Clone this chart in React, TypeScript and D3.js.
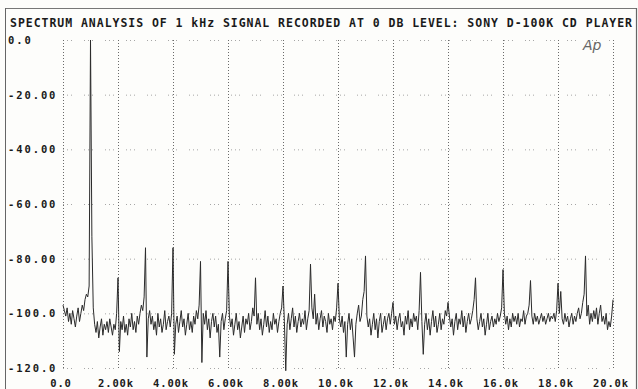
import React from "react";
import * as d3 from "d3";

const titleText =
  "SPECTRUM ANALYSIS OF 1 kHz SIGNAL RECORDED AT 0 DB LEVEL: SONY D-100K CD PLAYER";

const yTicks = [0, -20, -40, -60, -80, -100, -120];
const yTickLabels = ["0.0", "-20.00", "-40.00", "-60.00", "-80.00", "-100.0", "-120.0"];
const xTicks = [0, 2, 4, 6, 8, 10, 12, 14, 16, 18, 20];
const xTickLabels = ["0.0", "2.00k", "4.00k", "6.00k", "8.00k", "10.0k", "12.0k", "14.0k", "16.0k", "18.0k", "20.0k"];

// Spectrum samples, 0.05 kHz apart, starting at 0 kHz (one row per kHz)
const freqStepKHz = 0.05;
const spectrumDb = [
  -97, -99, -101, -98, -103, -100, -104, -99, -102, -105, -101, -98, -103, -100, -97, -99, -95, -93, -94, -90,
  0, -72, -98, -104, -107, -103, -109, -105, -102, -108, -104, -106, -103, -107, -102, -105, -108, -104, -106, -100,
  -87, -114, -103, -106, -101, -107, -104, -108, -102, -105, -100, -106, -103, -107, -101, -104, -100, -97, -99, -94,
  -76, -116, -102, -99, -104, -101, -106, -103, -108, -100, -105, -102, -107, -104, -99, -106, -103, -101, -105, -100,
  -76, -115, -104, -101, -107, -103, -99, -105, -102, -108, -104, -100, -106, -103, -107, -101, -104, -99, -102, -97,
  -81, -118, -100, -104, -99, -106, -102, -109, -103, -100, -105, -101, -107, -104, -116, -103, -100, -106, -102, -99,
  -81, -101, -105, -102, -108, -104, -100, -106, -103, -109, -105, -101, -107, -102, -104, -100, -106, -103, -98, -101,
  -87, -104, -100, -106, -102, -108, -104, -99, -105, -101, -107, -103, -106, -100, -104, -102, -107, -103, -100, -98,
  -90, -103, -121, -104, -100, -106, -102, -98, -105, -101, -107, -103, -100, -105, -102, -104, -99, -106, -102, -99,
  -82, -98, -102, -93, -104, -100, -106, -102, -99, -105, -101, -103, -107, -100, -104, -102, -106, -101, -103, -98,
  -89, -102, -105, -101, -107, -103, -116, -104, -100, -106, -102, -109, -116, -104, -100, -97, -103, -101, -95, -92,
  -79, -101, -105, -102, -108, -104, -100, -106, -102, -109, -103, -100, -107, -104, -101, -106, -102, -100, -104, -100,
  -96, -104, -101, -106, -102, -100, -105, -103, -108, -101, -104, -99, -106, -102, -105, -100, -103, -101, -106, -99,
  -85, -103, -115, -104, -100, -106, -102, -108, -103, -99, -105, -101, -107, -104, -100, -106, -102, -104, -99, -101,
  -96, -101, -105, -102, -108, -103, -100, -106, -102, -104, -99, -105, -101, -107, -103, -100, -104, -102, -99, -95,
  -87, -102, -106, -103, -100, -105, -102, -108, -104, -100, -106, -103, -101, -105, -102, -104, -100, -103, -101, -98,
  -84, -100, -104, -101, -106, -102, -105, -100, -103, -101, -104, -100, -105, -102, -103, -99, -104, -101, -100, -97,
  -88, -101, -104, -100, -103, -101, -104, -102, -100, -103, -101, -104, -102, -100, -103, -101, -102, -100, -103, -99,
  -89, -100, -92, -102, -104, -100, -103, -101, -105, -102, -100, -104, -101, -103, -100, -98, -102, -100, -96, -93,
  -79, -101, -97, -104, -100, -103, -99, -102, -98, -104, -100, -97, -103, -101, -104, -100, -106, -103, -105, -101,
  -95,
];

const W = 638;
const H = 389;

export default function App() {
  const x = d3.scaleLinear().domain([0, 20]).range([63, 613]);
  const y = d3.scaleLinear().domain([-120, 0]).range([368, 40]);

  const pts: [number, number][] = spectrumDb.map((v, i) => [i * freqStepKHz, v]);
  const line = d3
    .line<[number, number]>()
    .x((d) => x(d[0]))
    .y((d) => y(d[1]));

  const mono = "'DejaVu Sans Mono', 'Liberation Mono', monospace";

  return (
    <svg
      width={W}
      height={H}
      viewBox={`0 0 ${W} ${H}`}
      style={{ position: "absolute", left: 0, top: 0, display: "block", background: "#fdfdfb" }}
    >
      <rect x={0} y={0} width={W} height={H} fill="#fdfdfb" />
      {/* frame */}
      <line x1={5} x2={636} y1={8.5} y2={8.5} stroke="#777" strokeWidth={1} />
      <line x1={5.5} x2={5.5} y1={8} y2={H} stroke="#666" strokeWidth={1} />
      <line x1={636.5} x2={636.5} y1={8} y2={H} stroke="#666" strokeWidth={1.2} />

      {/* title */}
      <text
        x={10}
        y={27}
        fontFamily={mono}
        fontWeight="bold"
        fontSize={11.5}
        fill="#1a1a1a"
        textLength={622}
        lengthAdjust="spacing"
      >
        {titleText}
      </text>

      {/* horizontal grid (sparse dots) */}
      {yTicks.map((t) => (
        <line
          key={"h" + t}
          x1={x(0)}
          x2={x(20)}
          y1={y(t) + 0.5}
          y2={y(t) + 0.5}
          stroke="#8a8a8a"
          strokeWidth={1}
          strokeDasharray="1 3 1 3 1 12"
          opacity={0.75}
        />
      ))}

      {/* vertical grid */}
      {xTicks.map((t) => (
        <line
          key={"v" + t}
          x1={Math.round(x(t)) + 0.5}
          x2={Math.round(x(t)) + 0.5}
          y1={y(0)}
          y2={y(-120)}
          stroke="#6a6a6a"
          strokeWidth={1}
          strokeDasharray="1 2"
        />
      ))}

      {/* y labels */}
      {yTicks.map((t, i) => (
        <text
          key={"yl" + t}
          x={8}
          y={y(t) + 4}
          fontFamily={mono}
          fontWeight="bold"
          fontSize={10.5}
          letterSpacing={1.9}
          fill="#1a1a1a"
        >
          {yTickLabels[i]}
        </text>
      ))}

      {/* x labels */}
      {xTicks.map((t, i) => (
        <text
          key={"xl" + t}
          x={x(t) - 2}
          y={387}
          textAnchor="middle"
          fontFamily={mono}
          fontWeight="bold"
          fontSize={10.5}
          letterSpacing={0.9}
          fill="#1a1a1a"
        >
          {xTickLabels[i]}
        </text>
      ))}

      {/* Ap logo */}
      <text
        x={583}
        y={50}
        fontFamily="'DejaVu Sans', sans-serif"
        fontStyle="italic"
        fontSize={14}
        fontWeight={300}
        fill="#666"
      >
        Ap
      </text>

      {/* spectrum trace */}
      <path d={line(pts) || ""} fill="none" stroke="#2b2b2b" strokeWidth={1} strokeLinejoin="round" />
    </svg>
  );
}
